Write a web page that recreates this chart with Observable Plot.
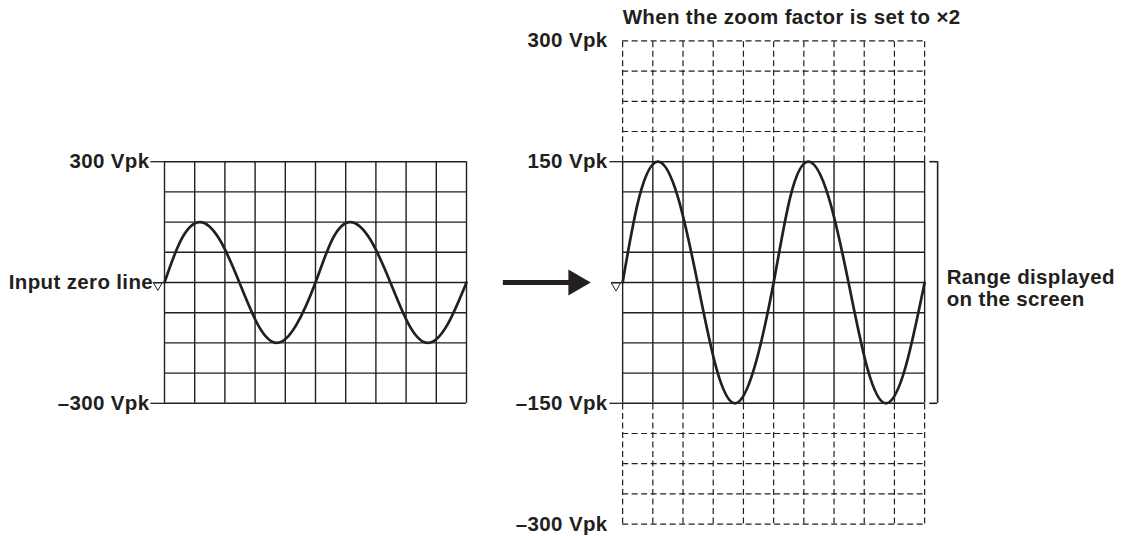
<!DOCTYPE html>
<html>
<head>
<meta charset="utf-8">
<script src="https://cdn.jsdelivr.net/npm/d3@7"></script>
<script src="https://cdn.jsdelivr.net/npm/@observablehq/plot@0.6"></script>
<style>
  html, body { margin: 0; padding: 0; background: #fff; }
  #chart { width: 1126px; height: 536px; }
</style>
</head>
<body>
<div id="chart"></div>
<script>
// ---- data ----
const title = "When the zoom factor is set to \u00d72";
const gridCols = [0, 1, 2, 3, 4, 5, 6, 7, 8, 9, 10];          // time divisions
const inputGridV = [-300, -225, -150, -75, 0, 75, 150, 225, 300]; // 75 V/div
const zoomGridV = [-300, -262.5, -225, -187.5, -150, -112.5, -75, -37.5, 0,
                   37.5, 75, 112.5, 150, 187.5, 225, 262.5, 300]; // 37.5 V/div
const leftTickV = [300, -300];
const leftTickLabels = ["300 Vpk", "\u2013300 Vpk"];
const rightTickV = [300, 150, -150, -300];
const rightTickLabels = ["300 Vpk", "150 Vpk", "\u2013150 Vpk", "\u2013300 Vpk"];
const rightTickMarks = [150, -150];
const zeroLabel = "Input zero line";
const rangeLabel = "Range displayed\non the screen";
// waveform (time in divisions, volts)
const waveT = [0, 0.55, 1.17, 1.83, 2.48, 3.1, 3.72, 4.36, 5.0, 5.55, 6.15, 6.82, 7.48, 8.1, 8.72, 9.36, 10];
const waveV = [0, 106, 150, 106, 0, -106, -150, -106, 0, 106, 150, 106, 0, -106, -150, -106, 0];

// ---- layout ----
const VDIV_IN = 75, VDIV_ZOOM = 37.5;
const DIV = 30.2;             // px per division
const RX = 15.17;             // right panel x offset (divisions)
const W = 1126, H = 536;
const INK = "#231f20";
const font = "'Liberation Sans', Arial, Helvetica, sans-serif";

const wave = waveT.map((t, i) => ({t, v: waveV[i]}));
const solidZoom = zoomGridV.filter(v => Math.abs(v) <= 150);
const dashedZoom = zoomGridV.filter(v => Math.abs(v) > 150);

const txt = {fill: INK, fontSize: 20.5, fontWeight: "bold", fontFamily: font, lineAnchor: "middle"};
const grid = {stroke: INK, strokeWidth: 1.4};
const dash = {stroke: INK, strokeWidth: 1.2, strokeDasharray: "6,3.5"};

const chart = Plot.plot({
  width: W, height: H, margin: 0,
  style: `font-family: ${font}; letter-spacing: 0.35px; background: #fff;`,
  x: {domain: [-164 / DIV, (W - 164) / DIV], axis: null},
  y: {domain: [-(H - 282) / DIV, 282 / DIV], axis: null},
  marks: [
    // left panel grid
    Plot.ruleX(gridCols, {x: d => d, y1: -300 / VDIV_IN, y2: 300 / VDIV_IN, ...grid}),
    Plot.ruleY(inputGridV, {y: v => v / VDIV_IN, x1: 0, x2: 10, ...grid}),
    // right panel grid (solid on screen, dashed beyond)
    Plot.ruleX(gridCols, {x: d => RX + d, y1: 150 / VDIV_ZOOM, y2: 300 / VDIV_ZOOM, ...dash}),
    Plot.ruleX(gridCols, {x: d => RX + d, y1: -300 / VDIV_ZOOM, y2: -150 / VDIV_ZOOM, ...dash}),
    Plot.ruleY(dashedZoom, {y: v => v / VDIV_ZOOM, x1: RX, x2: RX + 10, ...dash}),
    Plot.ruleX(gridCols, {x: d => RX + d, y1: -150 / VDIV_ZOOM, y2: 150 / VDIV_ZOOM, ...grid}),
    Plot.ruleY(solidZoom, {y: v => v / VDIV_ZOOM, x1: RX, x2: RX + 10, ...grid}),
    // waveforms
    Plot.line(wave, {x: d => d.t, y: d => d.v / VDIV_IN, curve: "natural", stroke: INK, strokeWidth: 2.7}),
    Plot.line(wave, {x: d => RX + d.t, y: d => d.v / VDIV_ZOOM, curve: "natural", stroke: INK, strokeWidth: 2.7}),
    // left tick labels
    Plot.ruleY(leftTickV, {y: v => v / VDIV_IN, x1: -0.45, x2: 0, stroke: INK, strokeWidth: 1.3}),
    Plot.text(leftTickV, {x: -0.5, y: v => v / VDIV_IN, text: (d, i) => leftTickLabels[i], textAnchor: "end", ...txt}),
    // zero markers
    Plot.text([zeroLabel], {x: -0.38, y: 0, text: d => d, textAnchor: "end", ...txt}),
    Plot.ruleY([0], {y: 0, x1: -0.37, x2: 0, stroke: INK, strokeWidth: 1.1}),
    Plot.dot([0], {x: -0.22, y: 0, symbol: "triangle", rotate: 180, r: 3.2, dy: 3, fill: "#fff", stroke: INK, strokeWidth: 1}),
    Plot.ruleY([0], {y: 0, x1: RX - 0.37, x2: RX, stroke: INK, strokeWidth: 1.1}),
    Plot.dot([0], {x: RX - 0.22, y: 0, symbol: "triangle", rotate: 180, r: 3.4, dy: 3.2, fill: "#fff", stroke: INK, strokeWidth: 1}),
    // right tick labels
    Plot.ruleY(rightTickMarks, {y: v => v / VDIV_ZOOM, x1: RX - 0.42, x2: RX, stroke: INK, strokeWidth: 1.3}),
    Plot.text(rightTickV, {x: RX - 0.5, y: v => v / VDIV_ZOOM, text: (d, i) => rightTickLabels[i], textAnchor: "end", ...txt}),
    // arrow
    Plot.ruleY([0], {y: 0, x1: 11.22, x2: 13.7, stroke: INK, strokeWidth: 5}),
    Plot.dot([0], {x: 14.1, y: 0, dx: -14.5, symbol: "triangle", rotate: 90, r: 9.6, fill: INK, stroke: "none"}),
    // bracket
    Plot.ruleX([0], {x: RX + 10.43, y1: -150 / VDIV_ZOOM, y2: 150 / VDIV_ZOOM, stroke: INK, strokeWidth: 1.6}),
    Plot.ruleY([150, -150], {y: v => v / VDIV_ZOOM, x1: RX + 10.17, x2: RX + 10.43, stroke: INK, strokeWidth: 1.6}),
    Plot.text([rangeLabel], {x: RX + 10.73, y: -0.18, text: d => d, textAnchor: "start", lineHeight: 1.08, ...txt}),
    // title
    Plot.text([title], {x: RX, y: 265 / DIV, text: d => d, textAnchor: "start", ...txt, style: "letter-spacing: 0.7px"})
  ]
});
document.getElementById("chart").appendChild(chart);
</script>
</body>
</html>
